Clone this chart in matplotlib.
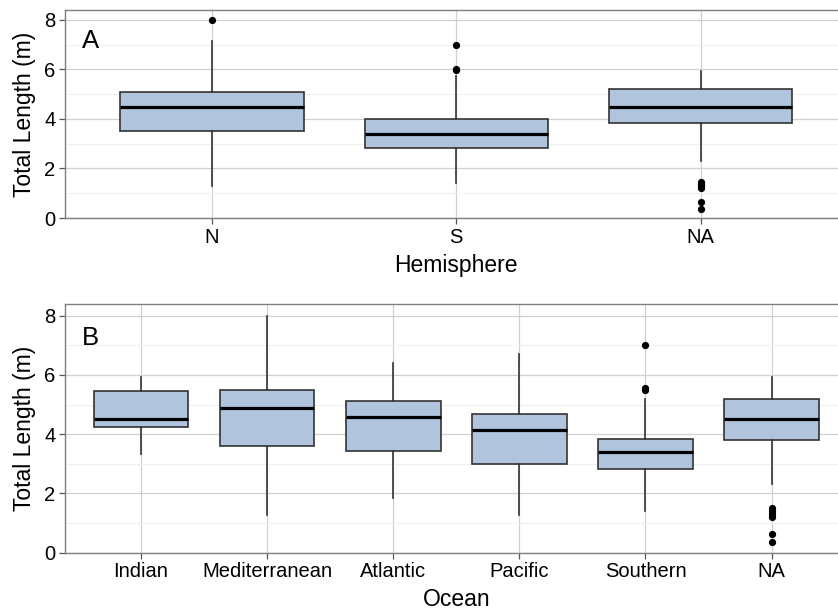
#!/usr/bin/env python3
"""
Total length box plots by hemisphere (A) and ocean (B)
"""

import matplotlib
matplotlib.use('Agg')
import matplotlib.pyplot as plt

plt.rcParams['font.family'] = ['Liberation Sans', 'DejaVu Sans']

# Panel A: hemisphere
hemi_labels = ['N', 'S', 'NA']
hemi_q1 = [3.51, 2.81, 3.83]
hemi_med = [4.49, 3.41, 4.49]
hemi_q3 = [5.07, 4.00, 5.19]
hemi_whislo = [1.29, 1.42, 2.31]
hemi_whishi = [7.14, 5.73, 5.93]
hemi_fliers = [[8.0], [5.97, 6.02, 7.0], [1.47, 1.38, 1.28, 1.2, 0.63, 0.36]]

# Panel B: ocean
ocean_labels = ['Indian', 'Mediterranean', 'Atlantic', 'Pacific', 'Southern', 'NA']
ocean_q1 = [4.25, 3.61, 3.43, 2.98, 2.81, 3.82]
ocean_med = [4.51, 4.90, 4.59, 4.13, 3.41, 4.51]
ocean_q3 = [5.47, 5.50, 5.11, 4.67, 3.85, 5.19]
ocean_whislo = [3.32, 1.27, 1.83, 1.27, 1.42, 2.32]
ocean_whishi = [5.94, 8.0, 6.41, 6.70, 5.19, 5.94]
ocean_fliers = [[], [], [], [], [5.5, 5.56, 7.0],
                [1.5, 1.4, 1.3, 1.22, 0.62, 0.37]]

y_ticks = [0, 2, 4, 6, 8]
y_minor = [1, 3, 5, 7]

FILL = '#b0c4de'
EDGE = '#333333'


def make_stats(labels, q1, med, q3, lo, hi, fliers):
    stats = []
    for i in range(len(labels)):
        stats.append(dict(label=labels[i], q1=q1[i], med=med[i], q3=q3[i],
                          whislo=lo[i], whishi=hi[i], fliers=fliers[i]))
    return stats


def draw_panel(ax, stats, xlabel, tag, tag_y):
    n = len(stats)
    pos = list(range(1, n + 1))
    ax.bxp(stats, positions=pos, widths=0.75, patch_artist=True,
           showcaps=False, showmeans=False,
           boxprops=dict(facecolor=FILL, edgecolor=EDGE, linewidth=1.2),
           medianprops=dict(color='black', linewidth=2.3),
           whiskerprops=dict(color=EDGE, linewidth=1.2),
           flierprops=dict(marker='o', markerfacecolor='black',
                           markeredgecolor='black', markersize=4.2),
           zorder=3)
    ax.set_xlim(0.4, n + 0.6)
    ax.set_ylim(0, 8.385)
    ax.set_yticks(y_ticks)
    ax.set_yticks(y_minor, minor=True)
    ax.set_xticks(pos)
    ax.set_xticklabels([s['label'] for s in stats])
    ax.grid(True, which='major', color='#d0d0d0', linewidth=0.9, zorder=0)
    ax.grid(True, which='minor', axis='y', color='#f0f0f0', linewidth=0.8, zorder=0)
    ax.set_axisbelow(True)
    ax.tick_params(axis='both', which='major', labelsize=14.5, length=4,
                   color='#555555', width=0.9, labelcolor='black', pad=3)
    ax.tick_params(axis='y', which='minor', length=0)
    for sp in ax.spines.values():
        sp.set_color('#7f7f7f')
        sp.set_linewidth(1.0)
    ax.set_ylabel('Total Length (m)', fontsize=16.5, labelpad=6)
    ax.set_xlabel(xlabel, fontsize=16.5, labelpad=5)
    ax.text(0.021, tag_y, tag, transform=ax.transAxes, fontsize=18.5,
            va='center', ha='left')


fig = plt.figure(figsize=(8.38, 6.13), dpi=100)
W, H = 838.0, 613.0
left = 65.3 / W
width = 782.0 / W

ax1 = fig.add_axes([left, (H - 218.0) / H, width, (218.0 - 10.3) / H])
draw_panel(ax1, make_stats(hemi_labels, hemi_q1, hemi_med, hemi_q3,
                           hemi_whislo, hemi_whishi, hemi_fliers),
           'Hemisphere', 'A', 0.852)

ax2 = fig.add_axes([left, (H - 552.7) / H, width, (552.7 - 304.3) / H])
draw_panel(ax2, make_stats(ocean_labels, ocean_q1, ocean_med, ocean_q3,
                           ocean_whislo, ocean_whishi, ocean_fliers),
           'Ocean', 'B', 0.864)

fig.savefig('out.png', dpi=100)
